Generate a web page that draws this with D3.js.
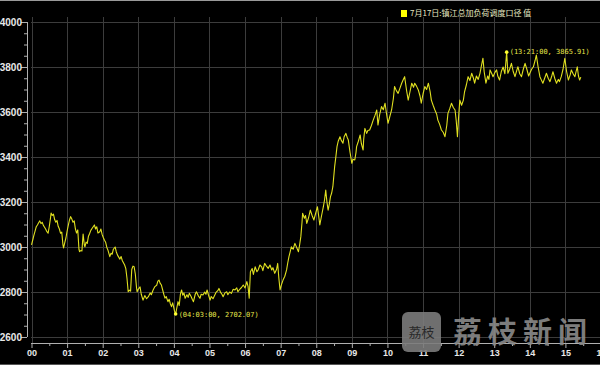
<!DOCTYPE html>
<html>
<head>
<meta charset="utf-8">
<script src="https://cdn.jsdelivr.net/npm/d3@7"></script>
<style>
  html, body { margin: 0; padding: 0; background: #000; }
  svg { display: block; }
</style>
</head>
<body>
<svg width="600" height="365"></svg>
<script>
// series: 7月17日 镇江总加负荷调度口径
const times = [
    "00:00","00:02","00:04","00:06","00:08","00:10","00:12","00:14","00:16","00:18","00:20","00:22","00:24","00:26","00:28","00:30","00:32","00:33","00:35","00:37","00:39","00:41","00:43","00:45","00:47","00:49","00:51","00:53","00:54","00:56","00:58",
    "01:00","01:02","01:04","01:06","01:08","01:10","01:12","01:14","01:16","01:18","01:20","01:21","01:23","01:25","01:27","01:29","01:30","01:32","01:34","01:36","01:38","01:40","01:42","01:44","01:46","01:48","01:50","01:52","01:55","01:57","01:59",
    "02:01","02:03","02:05","02:07","02:09","02:12","02:14","02:16","02:18","02:21","02:23","02:25","02:27","02:29","02:31","02:33","02:35","02:37","02:39","02:41","02:43","02:45","02:47","02:49","02:51","02:53","02:55","02:57","02:58",
    "03:00","03:03","03:05","03:08","03:11","03:14","03:17","03:20","03:22","03:25","03:28","03:31","03:33","03:35","03:37","03:39","03:41","03:43","03:45","03:47","03:50","03:52","03:54","03:56","03:58",
    "04:00","04:01","04:03","04:05","04:07","04:09","04:11","04:13","04:15","04:17","04:19","04:22","04:24","04:26","04:29","04:31","04:33","04:36","04:38","04:41","04:44","04:46","04:49","04:52","04:54","04:56","04:58",
    "05:01","05:03","05:06","05:09","05:11","05:14","05:16","05:19","05:21","05:23","05:26","05:29","05:31","05:34","05:37","05:40","05:43","05:46","05:48","05:51","05:54","05:57",
    "06:00","06:03","06:05","06:07","06:09","06:12","06:14","06:17","06:20","06:22","06:25","06:28","06:30","06:33","06:36","06:39","06:42","06:45","06:47","06:50","06:53","06:55","06:57","06:59",
    "07:02","07:04","07:07","07:10","07:12","07:14","07:16","07:18","07:21","07:24","07:27","07:30","07:32","07:34","07:36","07:37","07:40","07:42","07:44","07:47","07:50","07:53","07:56","07:59",
    "08:02","08:04","08:06","08:09","08:12","08:14","08:16","08:18","08:20","08:22","08:24","08:26","08:28","08:31","08:33","08:35","08:37","08:40","08:42","08:45","08:47","08:50","08:52","08:54","08:57",
    "09:00","09:02","09:05","09:07","09:08","09:11","09:14","09:16","09:19","09:20","09:22","09:25","09:27","09:30","09:33","09:36","09:39","09:42","09:44","09:47","09:50","09:53","09:56","09:58",
    "10:01","10:04","10:07","10:10","10:12","10:15","10:18","10:21","10:24","10:26","10:29","10:32","10:35","10:38","10:41","10:44","10:46","10:49","10:52","10:55","10:57",
    "11:00","11:03","11:06","11:09","11:12","11:14","11:17","11:20","11:23","11:25","11:28","11:31","11:34","11:37","11:40","11:42","11:45","11:48","11:51","11:54","11:56","11:58",
    "12:00","12:02","12:05","12:08","12:10","12:13","12:16","12:19","12:22","12:25","12:27","12:30","12:33","12:36","12:38","12:41","12:43","12:46","12:49","12:51","12:53","12:56","12:58",
    "13:01","13:04","13:06","13:09","13:12","13:15","13:18","13:21","13:23","13:26","13:29","13:32","13:35","13:38","13:40","13:43","13:46","13:49","13:52","13:55","13:58",
    "14:00","14:03","14:06","14:09","14:11","14:14","14:17","14:19","14:22","14:25","14:28","14:31","14:34","14:37","14:39","14:42","14:45","14:48","14:50","14:53","14:56","14:59",
    "15:02","15:05","15:08","15:10","15:13","15:16","15:18","15:20","15:22","15:24","15:26"
];
const loads = [
    3009,3030,3052,3071,3090,3098,3108,3116,3104,3110,3096,3088,3079,3068,3061,3092,3128,3151,3140,3146,3122,3110,3118,3092,3080,3061,3066,3010,2996,3018,3040,
    3070,3096,3120,3135,3124,3110,3116,3080,3062,3076,2990,2979,2984,2982,3058,3010,3001,3022,3016,3048,3060,3074,3082,3090,3098,3080,3090,3062,3068,3080,3056,
    3042,3030,3021,2998,2985,2957,2972,2968,2990,3000,2978,2964,2955,2946,2958,2940,2930,2920,2904,2860,2801,2808,2804,2900,2915,2912,2880,2820,2801,
    2812,2823,2790,2764,2784,2770,2779,2796,2788,2809,2824,2830,2848,2853,2838,2831,2810,2790,2773,2780,2757,2768,2748,2735,2752,
    2728,2716,2702.07,2730,2757,2740,2790,2809,2786,2796,2772,2788,2776,2794,2780,2768,2757,2790,2801,2784,2772,2790,2787,2800,2790,2809,2790,
    2764,2780,2770,2787,2798,2806,2816,2797,2790,2779,2796,2801,2788,2800,2794,2812,2809,2818,2801,2812,2820,2831,
    2818,2846,2825,2772,2890,2904,2878,2912,2890,2898,2920,2912,2895,2927,2915,2905,2920,2898,2908,2883,2900,2927,2860,2809,
    2838,2853,2870,2898,2930,2957,2978,3001,2990,3016,2998,2979,3010,3046,3110,3150,3128,3140,3105,3130,3164,3140,3120,3150,
    3179,3140,3098,3140,3179,3210,3253,3200,3164,3190,3224,3240,3268,3357,3400,3446,3470,3490,3475,3461,3490,3505,3488,3476,3420,
    3372,3390,3387,3420,3446,3470,3498,3460,3431,3480,3527,3505,3518,3520,3540,3564,3585,3609,3542,3590,3624,3610,3639,3600,
    3550,3580,3609,3660,3713,3695,3683,3705,3728,3740,3757,3700,3653,3690,3728,3710,3728,3715,3698,3670,3639,
    3680,3713,3700,3728,3690,3653,3630,3609,3590,3564,3545,3520,3510,3490,3540,3594,3615,3639,3620,3609,3560,3490,
    3580,3653,3630,3653,3690,3720,3757,3740,3772,3750,3728,3760,3745,3772,3800,3839,3780,3728,3760,3745,3787,3770,3757,
    3775,3787,3760,3742,3780,3800,3770,3865.91,3772,3790,3816,3780,3757,3785,3801,3770,3757,3790,3816,3790,3760,
    3772,3790,3801,3830,3853,3800,3757,3745,3728,3750,3772,3750,3735,3760,3779,3750,3728,3745,3735,3757,3790,3839,
    3780,3742,3765,3787,3770,3757,3780,3801,3760,3742,3755
];
const yTicks = [2600, 2800, 3000, 3200, 3400, 3600, 3800, 4000];
const hourLabels = ["00","01","02","03","04","05","06","07","08","09","10","11","12","13","14","15","16"];
const legendText = "7月17日:镇江总加负荷调度口径 值";
const minPoint = {time: "04:03:00", value: 2702.07};
const maxPoint = {time: "13:21:00", value: 3865.91};

const toMin = s => { const p = s.split(":"); return (+p[0]) * 60 + (+p[1]); };
const data = times.map((t, i) => ({m: toMin(t), v: loads[i]}));

const svg = d3.select("svg");
const fontAxis = "'Liberation Sans', Arial, sans-serif";

// scales
const x = d3.scaleLinear().domain([0, 960]).range([31.5, 601]);
const y = d3.scaleLinear().domain([2600, 4000]).range([337, 22]);

svg.append("rect").attr("width", 600).attr("height", 365).attr("fill", "#000");
// frame lines top / bottom
svg.append("line").attr("x1", 0).attr("x2", 600).attr("y1", 0.5).attr("y2", 0.5).attr("stroke", "#9a9a9a");
svg.append("line").attr("x1", 0).attr("x2", 600).attr("y1", 364.5).attr("y2", 364.5).attr("stroke", "#555");

// grid
const grid = svg.append("g").attr("stroke", "#3c3c3c").attr("stroke-width", 1);
grid.selectAll(".hg").data(yTicks).join("line")
    .attr("x1", 31).attr("x2", 600)
    .attr("y1", d => Math.round(y(d)) + 0.5).attr("y2", d => Math.round(y(d)) + 0.5);
grid.selectAll(".vg").data(d3.range(0, 17)).join("line")
    .attr("x1", d => Math.round(x(d * 60)) + 0.5).attr("x2", d => Math.round(x(d * 60)) + 0.5)
    .attr("y1", 17).attr("y2", 343);

// y axis
const yAxis = d3.axisLeft(y).tickValues(d3.range(2600, 4001, 50))
    .tickSize(0).tickFormat(d => d % 200 === 0 ? d : "");
const yG = svg.append("g").attr("transform", "translate(27,0)").call(yAxis);
yG.select(".domain").attr("stroke", "#b0b0b0").attr("d", `M0.5,${y(4000)}V${y(2600)}`);
yG.selectAll(".tick line")
    .attr("stroke", "#b0b0b0")
    .attr("x1", d => d % 200 === 0 ? -6 : -3).attr("x2", 0);
yG.selectAll(".tick text")
    .attr("x", -5).attr("fill", "#e8e8e8")
    .style("font-family", fontAxis).style("font-size", "10px").style("font-weight", "bold");

// x axis
const xAxis = d3.axisBottom(x).tickValues(d3.range(0, 961, 30))
    .tickSize(0).tickFormat(d => d % 60 === 0 ? hourLabels[d / 60] : "");
const xG = svg.append("g").attr("transform", "translate(0,343)").call(xAxis);
xG.select(".domain").attr("stroke", "#b0b0b0").attr("d", "M31,0.5H600");
xG.selectAll(".tick line").attr("stroke", "#b0b0b0").attr("y1", 0).attr("y2", d => d % 60 === 0 ? 5 : 3);
xG.selectAll(".tick text")
    .attr("y", 7).attr("fill", "#e8e8e8")
    .style("font-family", fontAxis).style("font-size", "9px").style("font-weight", "bold");

// series line
const line = d3.line().x(d => x(d.m)).y(d => y(d.v));
svg.append("path").datum(data)
    .attr("fill", "none").attr("stroke", "#e0e020").attr("stroke-width", 1.1)
    .attr("stroke-linejoin", "round").attr("d", line);

// extreme labels
const ann = svg.append("g").style("font-family", "'DejaVu Sans Mono', monospace").style("font-size", "7px").attr("fill", "#e6e64a");
[minPoint, maxPoint].forEach((p, i) => {
    const px = x(toMin(p.time.slice(0, 5))), py = y(p.value);
    ann.append("circle").attr("cx", px).attr("cy", py).attr("r", 1.8).attr("fill", "#ffff30");
    ann.append("text").attr("x", px + 3).attr("y", py + (i === 0 ? 3 : 2))
        .text(`(${p.time}, ${p.value.toFixed(2)})`);
});

// legend
svg.append("rect").attr("x", 401).attr("y", 10).attr("width", 6).attr("height", 7).attr("fill", "#ffff00");
svg.append("text").attr("x", 410).attr("y", 16).attr("fill", "#e8e8c0")
    .style("font-family", "'Noto Sans CJK SC', sans-serif").style("font-size", "8px")
    .text(legendText);

// watermark
const wm = svg.append("g").attr("opacity", 0.9);
wm.append("rect").attr("x", 402).attr("y", 312).attr("width", 39).attr("height", 40).attr("rx", 6).attr("fill", "#7c7c7c");
wm.append("text").attr("x", 421.5).attr("y", 337).attr("text-anchor", "middle").attr("fill", "#2e2e2e")
    .style("font-family", "'Noto Sans CJK SC', serif").style("font-size", "13px").text("荔枝");
wm.append("text").attr("x", 453).attr("y", 343).attr("fill", "#8a8a8a")
    .style("font-family", "'Noto Sans CJK SC', sans-serif").style("font-size", "29px").style("font-weight", "bold")
    .attr("textLength", 134).text("荔枝新闻");
</script>
</body>
</html>
